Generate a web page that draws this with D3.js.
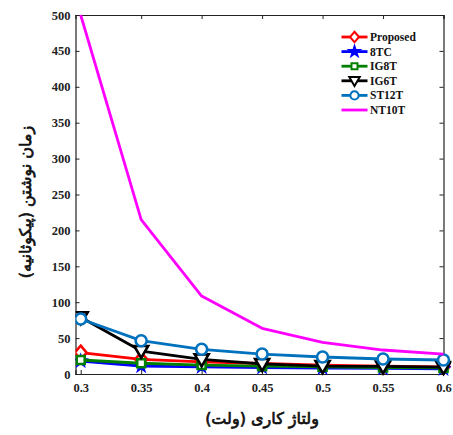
<!DOCTYPE html>
<html>
<head>
<meta charset="utf-8">
<script src="https://cdn.jsdelivr.net/npm/d3@7"></script>
<style>
  html, body { margin: 0; padding: 0; background: #fff; }
  svg { display: block; }
  .tick text { font-family: "Liberation Serif", "Times New Roman", serif; font-weight: bold; font-size: 12.5px; fill: #222; }
</style>
</head>
<body>
<div id="chart"></div>
<script>
// Supply voltage (V)
const voltages = [0.3, 0.35, 0.4, 0.45, 0.5, 0.55, 0.6];
const xTickLabels = ["0.3", "0.35", "0.4", "0.45", "0.5", "0.55", "0.6"];
const yTicks = [0, 50, 100, 150, 200, 250, 300, 350, 400, 450, 500];

// Write time (ps) per cell design
const proposed = [29.7, 20.4, 17, 14.6, 12.5, 11, 10];
const tc8 = [18, 11, 10, 9, 8.3, 7.7, 7];
const ig8t = [19.5, 15, 12.5, 11, 10, 9, 8.5];
const ig6t = [79, 32, 20.4, 14, 11, 10.5, 9.7];
const st12t = [76.6, 46.4, 34.4, 27.8, 23.7, 20.9, 19.5];
const nt10t = [500, 215, 108.6, 63.6, 44, 33.4, 27.8];

const seriesNames = ["Proposed", "8TC", "IG8T", "IG6T", "ST12T", "NT10T"];
const seriesValues = [proposed, tc8, ig8t, ig6t, st12t, nt10t];
const seriesColors = ["#ff0000", "#0000ff", "#008000", "#000000", "#0072bd", "#ff00ff"];
const seriesMarkers = ["diamond", "star", "square", "triangleDown", "circle", "none"];

const W = 453, H = 435;
const mLeft = 75.5, mRight = 443.5, mTop = 15, mBottom = 374;

const svg = d3.select("#chart").append("svg").attr("width", W).attr("height", H);

const x = d3.scaleLinear().domain([0.2957, 0.6]).range([mLeft, mRight]);
const y = d3.scaleLinear().domain([0, 500]).range([mBottom, mTop]);

// Plot clip
svg.append("clipPath").attr("id", "plotclip")
  .append("rect").attr("x", mLeft).attr("y", mTop - 1).attr("width", mRight - mLeft + 8).attr("height", mBottom - mTop + 8);

// Axes (ticks inward on all four sides)
const gx = svg.append("g").attr("transform", `translate(0,${mBottom})`)
  .call(d3.axisBottom(x).tickValues(voltages).tickFormat((d, i) => xTickLabels[i]).tickSize(-4).tickPadding(9));
const gy = svg.append("g").attr("transform", `translate(${mLeft},0)`)
  .call(d3.axisLeft(y).tickValues(yTicks).tickSize(-4).tickPadding(5));
const gxt = svg.append("g").attr("transform", `translate(0,${mTop})`)
  .call(d3.axisTop(x).tickValues(voltages).tickFormat("").tickSize(-4));
const gyr = svg.append("g").attr("transform", `translate(${mRight},0)`)
  .call(d3.axisRight(y).tickValues(yTicks).tickFormat("").tickSize(-4));
[gx, gy, gxt, gyr].forEach(g => {
  g.select(".domain").attr("stroke", "#222").attr("stroke-width", 1.2);
  g.selectAll(".tick line").attr("stroke", "#222").attr("stroke-width", 1);
});

// Marker shapes
function markerPath(kind) {
  switch (kind) {
    case "diamond": return "M0,-7L6,0L0,7L-6,0Z";
    case "square": return "M-4,-4H4V4H-4Z";
    case "triangleDown": return "M-7,-5H7L0,7Z";
    case "star": return d3.symbol(d3.symbolStar, 45)();
    default: return null;
  }
}

function drawMarker(g, kind, color, cx, cy) {
  if (kind === "none") return;
  if (kind === "circle") {
    g.append("circle").attr("cx", cx).attr("cy", cy).attr("r", 5.5)
      .attr("fill", "#fff").attr("stroke", color).attr("stroke-width", 2.6);
    return;
  }
  const filled = kind === "star";
  g.append("path").attr("d", markerPath(kind)).attr("transform", `translate(${cx},${cy})`)
    .attr("fill", filled ? color : "#fff").attr("stroke", color).attr("stroke-width", filled ? 1.5 : 2.6)
    .attr("stroke-linejoin", "miter");
}

const plot = svg.append("g").attr("clip-path", "url(#plotclip)");
const line = d3.line().x((d, i) => x(voltages[i])).y(d => y(d));

seriesValues.forEach((vals, s) => {
  const g = plot.append("g");
  g.append("path").datum(vals).attr("d", line).attr("fill", "none")
    .attr("stroke", seriesColors[s]).attr("stroke-width", 2.8).attr("stroke-linejoin", "round");
  vals.forEach((v, i) => drawMarker(g, seriesMarkers[s], seriesColors[s], x(voltages[i]), y(v)));
});

// Legend
const legend = svg.append("g");
seriesNames.forEach((name, s) => {
  const ly = 37 + s * 14.6;
  const g = legend.append("g");
  g.append("line").attr("x1", 341.5).attr("x2", 367.5).attr("y1", ly).attr("y2", ly)
    .attr("stroke", seriesColors[s]).attr("stroke-width", 2.8);
  const ms = seriesMarkers[s];
  if (ms !== "none") {
    const sc = ms === "star" ? 0.95 : 0.75;
    const mg = g.append("g").attr("transform", `translate(354.5,${ly}) scale(${sc})`);
    drawMarker(mg, ms, seriesColors[s], 0, 0);
  }
  g.append("text").attr("x", 370).attr("y", ly + 4)
    .attr("font-family", "Liberation Serif, Times New Roman, serif")
    .attr("font-weight", "bold").attr("font-size", 11.5).attr("fill", "#111")
    .text(name);
});

// Axis titles (Persian)
function persianTitle(sel) {
  return sel.attr("text-anchor", "middle").attr("direction", "rtl")
    .attr("font-family", "DejaVu Sans, sans-serif").attr("font-weight", "normal").attr("font-size", 16)
    .attr("fill", "#111").attr("stroke", "#111").attr("stroke-width", 0.7);
}

persianTitle(svg.append("text").attr("x", 262).attr("y", 424))
  .text("ولتاژ کاری (ولت)");

persianTitle(svg.append("text").attr("transform", "translate(31,202) rotate(-90)"))
  .text("زمان نوشتن (پیکوثانیه)");
</script>
</body>
</html>
